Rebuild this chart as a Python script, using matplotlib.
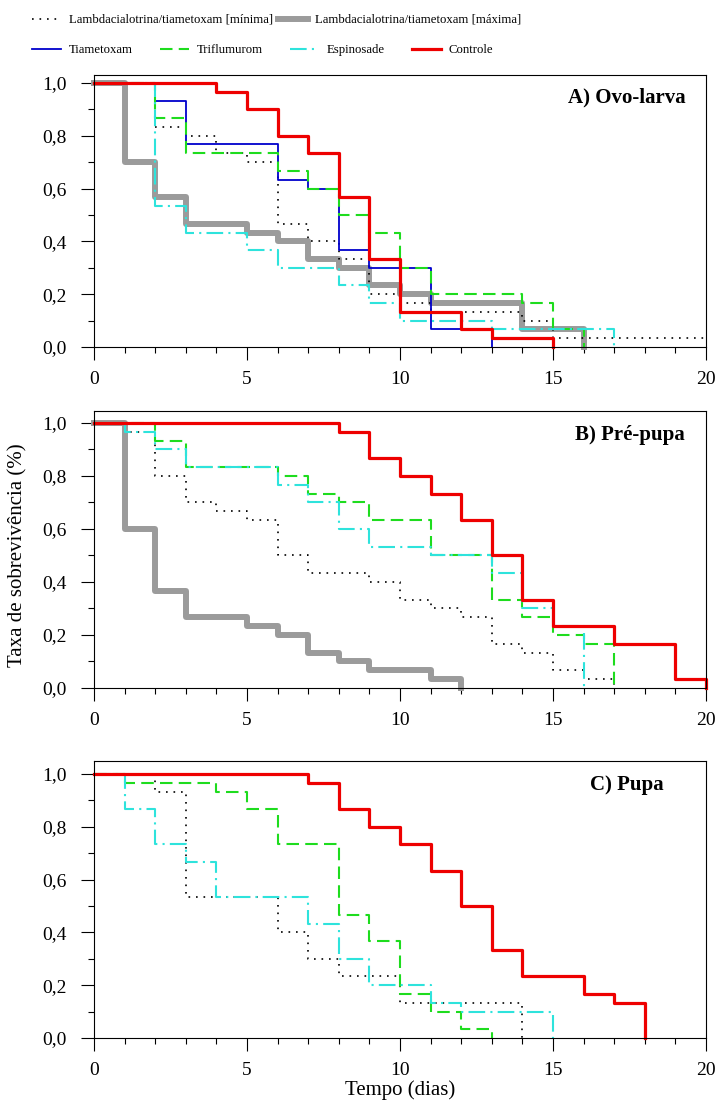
import matplotlib
matplotlib.use("Agg")
import matplotlib.pyplot as plt
from matplotlib.ticker import MultipleLocator, FuncFormatter
from matplotlib.lines import Line2D

plt.rcParams['font.family'] = ['Liberation Serif', 'DejaVu Serif']

# ---- data: day of each change and survival rate after it ----
# A) Ovo-larva
lmax_A_t = [0, 1, 2, 3, 5, 6, 7, 8, 9, 10, 11, 14, 16]
lmax_A_s = [1, .7, .567, .467, .433, .4, .333, .3, .233, .2, .167, .067, 0]
lmin_A_t = [0, 2, 3, 4, 5, 6, 7, 8, 9, 10, 11, 14, 15, 20]
lmin_A_s = [1, .833, .8, .733, .7, .467, .4, .333, .2, .167, .133, .1, .033, .033]
tiam_A_t = [0, 2, 3, 6, 7, 8, 9, 11, 13]
tiam_A_s = [1, .933, .767, .633, .6, .367, .3, .067, 0]
trif_A_t = [0, 2, 3, 6, 7, 8, 9, 10, 11, 14, 15, 16]
trif_A_s = [1, .867, .733, .667, .6, .5, .433, .3, .2, .167, .067, 0]
espi_A_t = [0, 2, 3, 5, 6, 8, 9, 10, 13, 17]
espi_A_s = [1, .533, .433, .367, .3, .233, .167, .1, .067, 0]
ctrl_A_t = [0, 4, 5, 6, 7, 8, 9, 10, 12, 13, 15]
ctrl_A_s = [1, .967, .9, .8, .733, .567, .333, .133, .067, .033, 0]

# B) Pre-pupa
lmax_B_t = [0, 1, 2, 3, 5, 6, 7, 8, 9, 11, 12]
lmax_B_s = [1, .6, .367, .267, .233, .2, .133, .1, .067, .033, 0]
lmin_B_t = [0, 1, 2, 3, 4, 5, 6, 7, 9, 10, 11, 12, 13, 14, 15, 16, 17]
lmin_B_s = [1, .967, .8, .7, .667, .633, .5, .433, .4, .333, .3, .267, .167, .133, .067, .033, 0]
trif_B_t = [0, 2, 3, 6, 7, 8, 9, 11, 13, 14, 15, 16, 17]
trif_B_s = [1, .933, .833, .8, .733, .7, .633, .5, .333, .267, .2, .167, 0]
espi_B_t = [0, 1, 2, 3, 6, 7, 8, 9, 11, 13, 14, 15, 16]
espi_B_s = [1, .967, .9, .833, .767, .7, .6, .533, .5, .433, .3, .233, 0]
ctrl_B_t = [0, 8, 9, 10, 11, 12, 13, 14, 15, 17, 19, 20]
ctrl_B_s = [1, .967, .867, .8, .733, .633, .5, .333, .233, .167, .033, 0]

# C) Pupa
lmin_C_t = [0, 2, 3, 6, 7, 8, 10, 14]
lmin_C_s = [1, .933, .533, .4, .3, .233, .133, 0]
trif_C_t = [0, 1, 4, 5, 6, 8, 9, 10, 11, 12, 13]
trif_C_s = [1, .967, .933, .867, .733, .467, .367, .167, .1, .033, 0]
espi_C_t = [0, 1, 2, 3, 4, 7, 8, 9, 11, 12, 15]
espi_C_s = [1, .867, .733, .667, .533, .433, .3, .2, .133, .1, 0]
ctrl_C_t = [0, 7, 8, 9, 10, 11, 12, 13, 14, 16, 17, 18]
ctrl_C_s = [1, .967, .867, .8, .733, .633, .5, .333, .233, .167, .133, 0]

labels = {
    'lmin': 'Lambdacialotrina/tiametoxam [mínima]',
    'lmax': 'Lambdacialotrina/tiametoxam [máxima]',
    'tiam': 'Tiametoxam',
    'trif': 'Triflumurom',
    'espi': 'Espinosade',
    'ctrl': 'Controle',
}
styles = {
    'lmin': dict(color='black', lw=1.2, ls=(0, (1, 3.5))),
    'lmax': dict(color='#9b9b9b', lw=4.3),
    'tiam': dict(color='#0000cc', lw=1.3),
    'trif': dict(color='#1edc1e', lw=1.5, ls=(0, (6, 3))),
    'espi': dict(color='#2ee3dc', lw=1.5, ls=(0, (8, 2.5, 1, 2.5))),
    'ctrl': dict(color='#ee0000', lw=2.3),
}

panels = [
    ('A) Ovo-larva', 0.967, 0.919, 1.030,
     [('lmax', lmax_A_t, lmax_A_s), ('lmin', lmin_A_t, lmin_A_s),
      ('tiam', tiam_A_t, tiam_A_s), ('trif', trif_A_t, trif_A_s),
      ('espi', espi_A_t, espi_A_s), ('ctrl', ctrl_A_t, ctrl_A_s)]),
    ('B) Pré-pupa', 0.965, 0.913, 1.045,
     [('lmax', lmax_B_t, lmax_B_s), ('lmin', lmin_B_t, lmin_B_s),
      ('trif', trif_B_t, trif_B_s), ('espi', espi_B_t, espi_B_s),
      ('ctrl', ctrl_B_t, ctrl_B_s)]),
    ('C) Pupa', 0.93, 0.913, 1.049,
     [('lmin', lmin_C_t, lmin_C_s), ('trif', trif_C_t, trif_C_s),
      ('espi', espi_C_t, espi_C_s), ('ctrl', ctrl_C_t, ctrl_C_s)]),
]

W, H = 719, 1104
boxes = [(75, 347), (411, 688), (761, 1038)]   # top, bottom in pixels

fig = plt.figure(figsize=(W / 100, H / 100), dpi=100)
comma = FuncFormatter(lambda v, p: f"{v:.1f}".replace('.', ','))

for (title, tx, ty, ytop, series), (top, bot) in zip(panels, boxes):
    ax = fig.add_axes([94 / W, 1 - bot / H, 612 / W, (bot - top) / H])
    for key, t, s in series:
        ax.step(t, s, where='post', clip_on=False, **styles[key])
    ax.set_xlim(0, 20)
    ax.set_ylim(0, ytop)
    ax.xaxis.set_major_locator(MultipleLocator(5))
    ax.xaxis.set_minor_locator(MultipleLocator(1))
    ax.yaxis.set_major_locator(MultipleLocator(0.2))
    ax.yaxis.set_minor_locator(MultipleLocator(0.1))
    ax.yaxis.set_major_formatter(comma)
    ax.tick_params(which='major', length=9.5, width=0.8, labelsize=14)
    ax.tick_params(which='minor', length=4.5, width=0.8)
    ax.tick_params(axis='x', which='major', pad=8)
    ax.tick_params(axis='y', which='major', pad=10)
    for sp in ax.spines.values():
        sp.set_linewidth(0.8)
    ax.text(tx, ty, title, transform=ax.transAxes, ha='right', va='center',
            fontsize=15, fontweight='bold')

# legend in two rows
handles = {k: Line2D([], [], **styles[k]) for k in styles}
row1 = ['lmin', 'lmax']
row2 = ['tiam', 'trif', 'espi', 'ctrl']
fig.legend([handles[k] for k in row1], [labels[k] for k in row1],
           loc='center left', bbox_to_anchor=(32 / W, 1 - 20 / H), ncol=2,
           frameon=False, fontsize=9.2, handlelength=2.3, handletextpad=0.6,
           columnspacing=0.4, borderpad=0, borderaxespad=0)
fig.legend([handles[k] for k in row2], [labels[k] for k in row2],
           loc='center left', bbox_to_anchor=(32 / W, 1 - 50 / H), ncol=4,
           frameon=False, fontsize=9.2, handlelength=2.3, handletextpad=0.6,
           columnspacing=2.1, borderpad=0, borderaxespad=0)

fig.text(18 / W, 1 - 555 / H, 'Taxa de sobrevivência (%)', rotation=90,
         ha='center', va='center', fontsize=15)
fig.text(400 / W, 1 - 1090 / H, 'Tempo (dias)', ha='center', va='center',
         fontsize=15)

fig.savefig('out.png', dpi=100)
